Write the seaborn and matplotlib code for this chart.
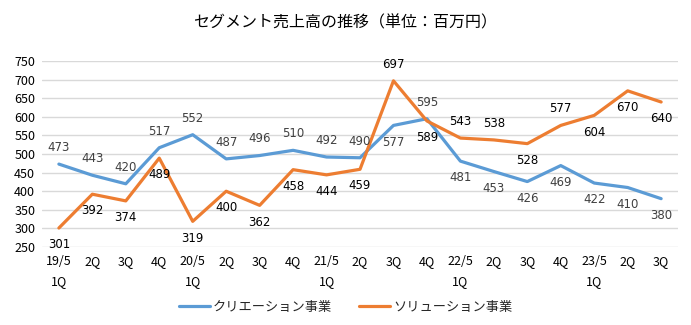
import matplotlib
matplotlib.use("Agg")
import matplotlib.pyplot as plt
import seaborn as sns
import pandas as pd

categories = ["19/5\n1Q", "2Q", "3Q", "4Q", "20/5\n1Q", "2Q", "3Q", "4Q",
              "21/5\n1Q", "2Q", "3Q", "4Q", "22/5\n1Q", "2Q", "3Q", "4Q",
              "23/5\n1Q", "2Q", "3Q"]
creation = [473, 443, 420, 517, 552, 487, 496, 510, 492, 490, 577, 595,
            481, 453, 426, 469, 422, 410, 380]
solution = [301, 392, 374, 489, 319, 400, 362, 458, 444, 459, 697, 589,
            543, 538, 528, 577, 604, 670, 640]
series_names = ["クリエーション事業", "ソリューション事業"]
# label placement: 1 above, -1 below
creation_pos = [1, 1, 1, 1, 1, 1, 1, 1, 1, 1, -1, 1, -1, -1, -1, -1, -1, -1, -1]
solution_pos = [-1, -1, -1, -1, -1, -1, -1, -1, -1, -1, 1, -1, 1, 1, -1, 1, -1, -1, -1]

sns.set_style("white")
plt.rcParams['font.family'] = ['Noto Sans CJK JP', 'DejaVu Sans']

idx = list(range(len(categories)))
df = pd.DataFrame({
    "x": idx * 2,
    "value": creation + solution,
    "series": [series_names[0]] * len(idx) + [series_names[1]] * len(idx),
})

colors = {series_names[0]: "#5B9BD5", series_names[1]: "#ED7D31"}

fig = plt.figure(figsize=(6.91, 3.25), dpi=100)
ax = fig.add_axes([0.061, 0.24, 0.920, 0.572])
sns.lineplot(data=df, x="x", y="value", hue="series", palette=colors,
             linewidth=2.3, ax=ax, legend=True)

for i in idx:
    ax.annotate(str(creation[i]), (i, creation[i]), xytext=(0, 12 * creation_pos[i]),
                textcoords="offset points", ha="center", va="center",
                fontsize=8.5, color="#404040", family=['DejaVu Sans'])
    ax.annotate(str(solution[i]), (i, solution[i]), xytext=(0, 12 * solution_pos[i]),
                textcoords="offset points", ha="center", va="center",
                fontsize=8.5, color="#000000", family=['DejaVu Sans'])

ax.set_xlim(-0.5, len(categories) - 0.5)
ax.set_ylim(250, 750)
ax.set_yticks(range(250, 751, 50))
ax.set_xticks(idx)
ax.set_xticklabels(categories)
for lbl in ax.get_xticklabels():
    lbl.set_linespacing(1.65)
    lbl.set_verticalalignment("top")
ax.tick_params(axis="both", length=0, labelsize=9, colors="#000000")
ax.tick_params(axis="x", pad=6)
ax.tick_params(axis="y", pad=5)
ax.grid(axis="y", color="#D9D9D9", linewidth=1)
ax.set_axisbelow(True)
for s in ax.spines.values():
    s.set_visible(False)
ax.set_xlabel("")
ax.set_ylabel("")

fig.suptitle("セグメント売上高の推移（単位：百万円）", y=0.955, fontsize=11.5, color="#000000")

handles, labels = ax.get_legend_handles_labels()
ax.legend_.remove()
fig.legend(handles, labels, loc="center", bbox_to_anchor=(0.5, 0.055), ncol=2,
           frameon=False, fontsize=9.5, handlelength=2.4, columnspacing=2.0,
           handletextpad=0.2)

fig.savefig("out.png", dpi=100)
